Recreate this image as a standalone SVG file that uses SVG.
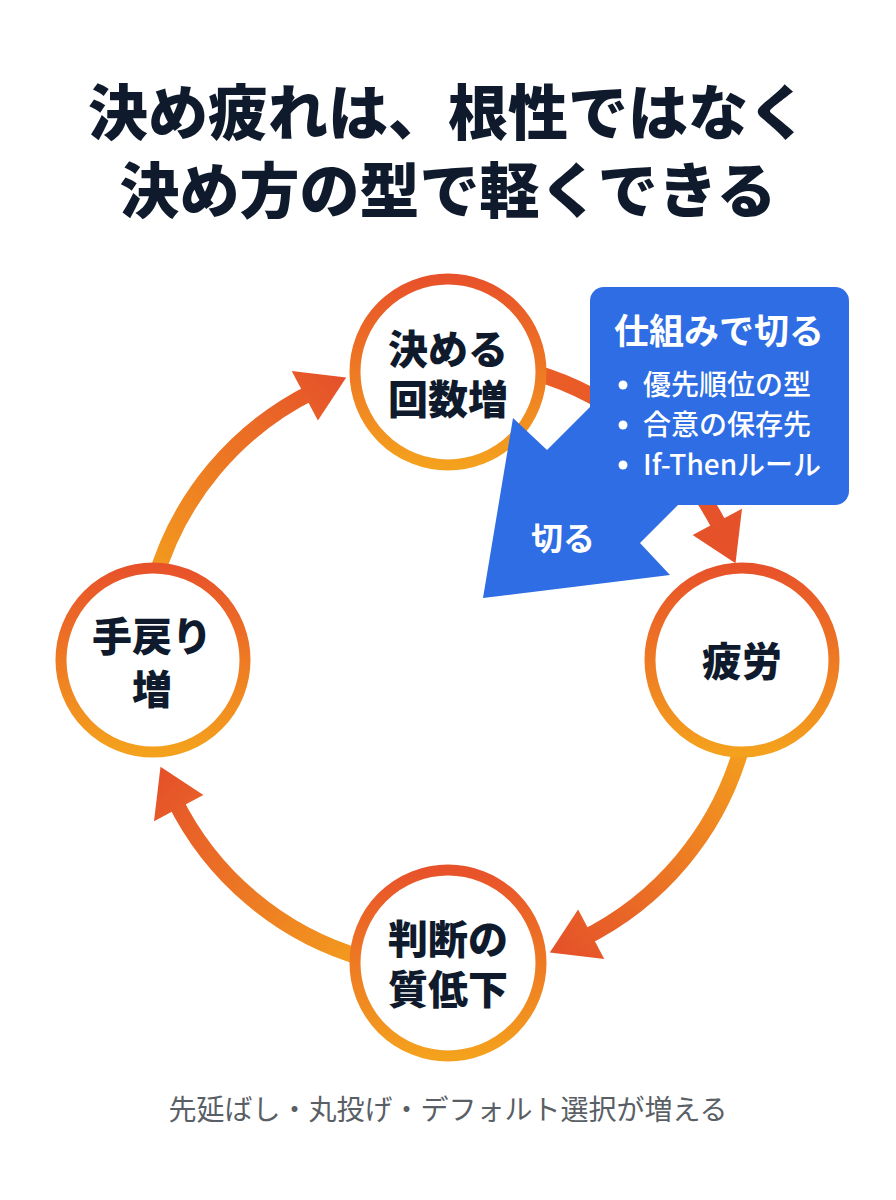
<svg xmlns="http://www.w3.org/2000/svg" width="896" height="1200" viewBox="0 0 896 1200">
<style>
.title{font-family:"Noto Sans CJK JP","Noto Sans",sans-serif;font-weight:900;font-size:60px;fill:#0F1B2D;text-anchor:middle}
.node{font-family:"Noto Sans CJK JP","Noto Sans",sans-serif;font-weight:900;font-size:40px;fill:#0F1B2D;text-anchor:middle}
.ring{fill:#FFFFFF;stroke:url(#ringGrad);stroke-width:11}
.shaft{fill:none;stroke-width:16}
.ctitle{font-family:"Noto Sans CJK JP","Noto Sans",sans-serif;font-weight:700;font-size:35px;fill:#FFFFFF;text-anchor:middle}
.bul{font-family:"Noto Sans CJK JP","Noto Sans",sans-serif;font-weight:500;font-size:28px;fill:#FFFFFF}
.foot{font-family:"Noto Sans CJK JP","Noto Sans",sans-serif;font-weight:400;font-size:28px;fill:#5A5F66;text-anchor:middle}
.blue{fill:#2E6DE3}
</style>
<defs>
<linearGradient id="ringGrad" x1="0" y1="0" x2="0" y2="1">
<stop offset="0" stop-color="#E8522A"/>
<stop offset="1" stop-color="#F4A11D"/>
</linearGradient>
<linearGradient id="g1" gradientUnits="userSpaceOnUse" x1="155" y1="581" x2="346" y2="377">
<stop offset="0" stop-color="#F39C1E"/><stop offset="1" stop-color="#E5502A"/>
</linearGradient>
<linearGradient id="g2" gradientUnits="userSpaceOnUse" x1="532" y1="372" x2="735" y2="563">
<stop offset="0" stop-color="#EA5E26"/><stop offset="1" stop-color="#E5502A"/>
</linearGradient>
<linearGradient id="g3" gradientUnits="userSpaceOnUse" x1="741" y1="749" x2="550" y2="952">
<stop offset="0" stop-color="#F39C1E"/><stop offset="1" stop-color="#E5502A"/>
</linearGradient>
<linearGradient id="g4" gradientUnits="userSpaceOnUse" x1="364" y1="958" x2="160" y2="767">
<stop offset="0" stop-color="#F39C1E"/><stop offset="1" stop-color="#E5502A"/>
</linearGradient>
</defs>
<rect width="896" height="1200" fill="#FFFFFF"/>
<g id="title">
<text class="title" x="448" y="135">決め疲れは、根性ではなく</text>
<text class="title" x="448" y="213">決め方の型で軽くできる</text>
</g>
<g id="connectors">
<path class="shaft" stroke="url(#g1)" d="M154.8,580.9 A305,305 0 0 1 314.3,390.9"/>
<polygon fill="url(#g1)" points="291.7,371.0 346.2,377.5 317.9,420.4"/>
<path class="shaft" stroke="url(#g2)" d="M532.1,371.8 A305,305 0 0 1 722.1,531.3"/>
<polygon fill="url(#g2)" points="742.0,508.7 735.5,563.2 692.6,534.9"/>
<path class="shaft" stroke="url(#g3)" d="M741.2,749.1 A305,305 0 0 1 581.7,939.1"/>
<polygon fill="url(#g3)" points="604.3,959.0 549.8,952.5 578.1,909.6"/>
<path class="shaft" stroke="url(#g4)" d="M363.9,958.2 A305,305 0 0 1 173.9,798.7"/>
<polygon fill="url(#g4)" points="154.0,821.3 160.5,766.8 203.4,795.1"/>
</g>
<g id="node-top">
<circle class="ring" cx="448" cy="372" r="93"/>
<text class="node" x="448" y="364">決める</text>
<text class="node" x="448" y="414">回数増</text>
</g>
<g id="node-right">
<circle class="ring" cx="742" cy="660" r="92"/>
<text class="node" x="742" y="676">疲労</text>
</g>
<g id="node-bottom">
<circle class="ring" cx="448" cy="963" r="93"/>
<text class="node" x="448" y="954">判断の</text>
<text class="node" x="448" y="1004">質低下</text>
</g>
<g id="node-left">
<circle class="ring" cx="153" cy="660" r="92"/>
<text class="node" x="152" y="651">手戻り</text>
<text class="node" x="152" y="704">増</text>
</g>
<g id="callout">
<polygon class="blue" points="612,385 547,450 513,418 483,598 670,575 640,543 700,483"/>
<rect class="blue" x="590" y="287" width="259" height="218" rx="14"/>
<text class="ctitle" x="719" y="344">仕組みで切る</text>
<circle cx="623" cy="385" r="4.5" fill="#FFFFFF"/>
<text class="bul" x="643" y="395">優先順位の型</text>
<circle cx="623" cy="425" r="4.5" fill="#FFFFFF"/>
<text class="bul" x="643" y="435">合意の保存先</text>
<circle cx="623" cy="465" r="4.5" fill="#FFFFFF"/>
<text class="bul" x="643" y="475">If-Thenルール</text>
<text class="ctitle" x="563" y="550" style="font-size:32px">切る</text>
</g>
<g id="footer">
<text class="foot" x="448" y="1120">先延ばし・丸投げ・デフォルト選択が増える</text>
</g>
</svg>
